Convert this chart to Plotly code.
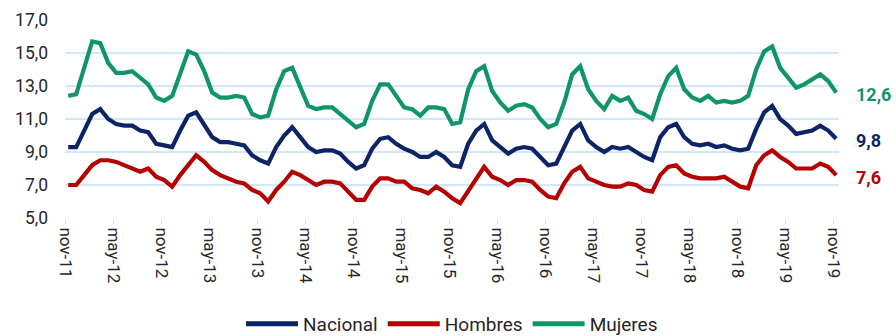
import plotly.graph_objects as go

# Monthly series, nov-11 .. nov-19 (97 months)
nacional = [9.3, 9.3, 10.3, 11.3, 11.6, 11.0, 10.7, 10.6, 10.6, 10.3, 10.2, 9.5, 9.4,
            9.3, 10.3, 11.2, 11.4, 10.7, 9.9, 9.6, 9.6, 9.5, 9.4, 8.8, 8.5, 8.3,
            9.3, 10.0, 10.5, 9.9, 9.3, 9.0, 9.1, 9.1, 8.9, 8.4, 8.0, 8.2, 9.2,
            9.8, 9.9, 9.5, 9.2, 9.0, 8.7, 8.7, 9.0, 8.7, 8.2, 8.1, 9.5, 10.3,
            10.7, 9.7, 9.3, 8.9, 9.2, 9.3, 9.2, 8.7, 8.2, 8.3, 9.3, 10.3, 10.7,
            9.7, 9.3, 9.0, 9.3, 9.2, 9.3, 9.0, 8.7, 8.5, 9.9, 10.5, 10.7, 9.9,
            9.5, 9.4, 9.5, 9.3, 9.4, 9.2, 9.1, 9.2, 10.4, 11.4, 11.8, 11.0, 10.6,
            10.1, 10.2, 10.3, 10.6, 10.3, 9.8]

hombres = [7.0, 7.0, 7.6, 8.2, 8.5, 8.5, 8.4, 8.2, 8.0, 7.8, 8.0, 7.5, 7.3,
           6.9, 7.6, 8.2, 8.8, 8.4, 7.9, 7.6, 7.4, 7.2, 7.1, 6.7, 6.5, 6.0,
           6.7, 7.2, 7.8, 7.6, 7.3, 7.0, 7.2, 7.2, 7.1, 6.6, 6.1, 6.1, 6.9,
           7.4, 7.4, 7.2, 7.2, 6.8, 6.7, 6.5, 6.9, 6.6, 6.2, 5.9, 6.6, 7.4,
           8.1, 7.5, 7.3, 7.0, 7.3, 7.3, 7.2, 6.7, 6.3, 6.2, 7.1, 7.8, 8.1,
           7.4, 7.2, 7.0, 6.9, 6.9, 7.1, 7.0, 6.7, 6.6, 7.6, 8.1, 8.2, 7.7,
           7.5, 7.4, 7.4, 7.4, 7.5, 7.2, 6.9, 6.8, 8.2, 8.8, 9.1, 8.7, 8.4,
           8.0, 8.0, 8.0, 8.3, 8.1, 7.6]

mujeres = [12.4, 12.5, 14.1, 15.7, 15.6, 14.4, 13.8, 13.8, 13.9, 13.5, 13.1, 12.3, 12.1,
           12.4, 13.8, 15.1, 14.9, 13.9, 12.6, 12.3, 12.3, 12.4, 12.3, 11.3, 11.1, 11.2,
           12.8, 13.9, 14.1, 12.9, 11.8, 11.6, 11.7, 11.7, 11.3, 10.9, 10.5, 10.7, 12.1,
           13.1, 13.1, 12.4, 11.7, 11.6, 11.2, 11.7, 11.7, 11.6, 10.7, 10.8, 12.8, 13.9,
           14.2, 12.7, 12.0, 11.5, 11.8, 11.9, 11.7, 11.0, 10.5, 10.7, 12.0, 13.7, 14.2,
           12.8, 12.1, 11.6, 12.4, 12.1, 12.3, 11.5, 11.3, 11.0, 12.5, 13.6, 14.1, 12.8,
           12.3, 12.1, 12.4, 12.0, 12.1, 12.0, 12.1, 12.4, 14.0, 15.1, 15.4, 14.1, 13.5,
           12.9, 13.1, 13.4, 13.7, 13.3, 12.6]

tick_labels = ["nov-11", "may-12", "nov-12", "may-13", "nov-13", "may-14", "nov-14",
               "may-15", "nov-15", "may-16", "nov-16", "may-17", "nov-17", "may-18",
               "nov-18", "may-19", "nov-19"]

series = [
    ("Nacional", nacional, "#0c2465"),
    ("Hombres", hombres, "#b40000"),
    ("Mujeres", mujeres, "#10946a"),
]

months = list(range(len(nacional)))
tick_pos = [6 * k - 0.375 for k in range(len(tick_labels))]

fig = go.Figure()
for name, vals, color in series:
    fig.add_trace(go.Scatter(x=months, y=vals, name=name, mode="lines",
                             line=dict(color=color, width=4.2)))

# end-of-series value labels
for name, vals, color in series:
    fig.add_annotation(x=months[-1], y=vals[-1], xref="x", yref="y",
                       text=f"<b>{vals[-1]:.1f}</b>".replace(".", ","),
                       showarrow=False, xanchor="left", yanchor="middle",
                       xshift=18, yshift=-2,
                       font=dict(size=18, color=color, family="Roboto"))

grid = "#d3e7fa"
fig.update_layout(
    width=896, height=336,
    margin=dict(l=65, r=57, t=20, b=118, autoexpand=False),
    paper_bgcolor="white", plot_bgcolor="white",
    separators=",.",
    font=dict(family="Roboto", color="#404040", size=15),
    showlegend=True,
    legend=dict(orientation="h", x=0.5, xanchor="center", y=-0.535, yanchor="middle",
                font=dict(size=19, color="#262626"), itemwidth=52,
                tracegroupgap=0, itemsizing="constant"),
    xaxis=dict(range=[-0.4, 96.35], tickmode="array", tickvals=tick_pos,
               ticktext=tick_labels, tickangle=90, showgrid=False, zeroline=False,
               ticks="outside", ticklen=5, tickcolor=grid, tickwidth=1,
               showline=False, automargin=False,
               tickfont=dict(size=17, color="#262626")),
    yaxis=dict(range=[5, 17], dtick=2, tick0=5, tickformat=".1f", showgrid=True,
               gridcolor=grid, gridwidth=1.5, zeroline=False, showline=False,
               automargin=False,
               ticks="", ticklabelstandoff=16, tickfont=dict(size=17.5, color="#262626")),
)

fig.write_html("out.html")
